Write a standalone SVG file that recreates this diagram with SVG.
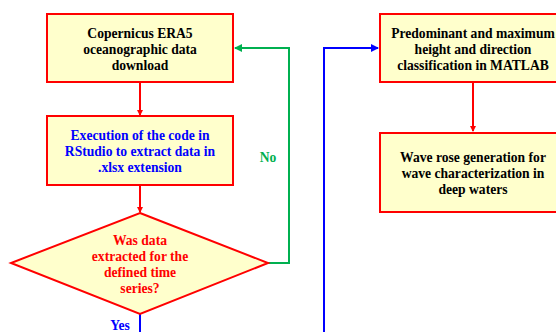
<svg xmlns="http://www.w3.org/2000/svg" width="556" height="332" viewBox="0 0 556 332">
<defs>
<style>
.box{fill:#FFFFCC;stroke:#FF0000;stroke-width:2}
.t{font-family:"Liberation Serif","Times New Roman",serif;font-weight:bold;font-size:13.6px;text-anchor:middle}
.k{fill:#000}
.b{fill:#0000FF}
.r{fill:#FF0000}
.g{fill:#00B050}
.lr{fill:none;stroke:#FF0000;stroke-width:2}
.lg{fill:none;stroke:#00B050;stroke-width:2}
.lb{fill:none;stroke:#0000FF;stroke-width:2}
</style>
<marker id="ar" markerWidth="6" markerHeight="6" refX="5" refY="3" orient="auto" markerUnits="userSpaceOnUse"><path d="M0,0 L6,3 L0,6 Z" fill="#FF0000"/></marker>
<marker id="ag" markerWidth="8" markerHeight="8" refX="7" refY="4" orient="auto" markerUnits="userSpaceOnUse"><path d="M0,0 L8,4 L0,8 Z" fill="#00B050"/></marker>
<marker id="ab" markerWidth="8" markerHeight="8" refX="7" refY="4" orient="auto" markerUnits="userSpaceOnUse"><path d="M0,0 L8,4 L0,8 Z" fill="#0000FF"/></marker>
</defs>
<rect width="556" height="332" fill="#fff"/>
<g id="connectors">
<path class="lr" d="M140,83 V115" marker-end="url(#ar)"/>
<path class="lr" d="M140,185 V212" marker-end="url(#ar)"/>
<path class="lg" d="M268,263 H289 V48 H235" marker-end="url(#ag)"/>
<path class="lb" d="M140,314 V332"/>
<path class="lb" d="M324,332 V48 H378" marker-end="url(#ab)"/>
<path class="lr" d="M473,83 V131" marker-end="url(#ar)"/>
<text class="t g" x="268" y="162">No</text>
<text class="t b" x="120" y="329.5">Yes</text>
</g>
<g id="n1">
<rect class="box" x="47" y="14" width="186" height="68"/>
<text class="t k" x="140" y="38">Copernicus ERA5</text>
<text class="t k" x="140" y="54">oceanographic data</text>
<text class="t k" x="140" y="70">download</text>
</g>
<g id="n2">
<rect class="box" x="47" y="116" width="186" height="69"/>
<text class="t b" x="140" y="140">Execution of the code in</text>
<text class="t b" x="140" y="156">RStudio to extract data in</text>
<text class="t b" x="140" y="172">.xlsx extension</text>
</g>
<g id="n3">
<path class="box" d="M140,213 L268,263 L140,314 L11,263 Z"/>
<text class="t r" x="140" y="245">Was data</text>
<text class="t r" x="140" y="261">extracted for the</text>
<text class="t r" x="140" y="277">defined time</text>
<text class="t r" x="140" y="293">series?</text>
</g>
<g id="n4">
<rect class="box" x="380" y="14" width="186" height="68"/>
<text class="t k" x="473" y="38">Predominant and maximum</text>
<text class="t k" x="473" y="54">height and direction</text>
<text class="t k" x="473" y="70">classification in MATLAB</text>
</g>
<g id="n5">
<rect class="box" x="380" y="133" width="186" height="79"/>
<text class="t k" x="473" y="162">Wave rose generation for</text>
<text class="t k" x="473" y="178">wave characterization in</text>
<text class="t k" x="473" y="194">deep waters</text>
</g>
</svg>
